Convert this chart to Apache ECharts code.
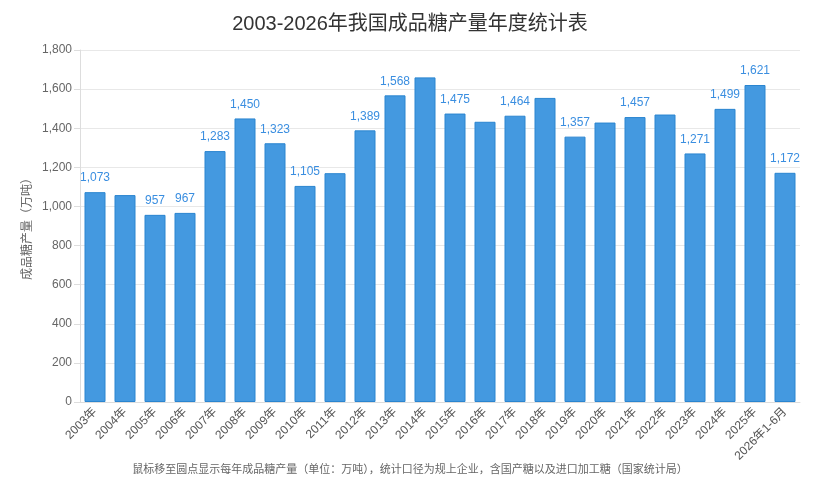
<!DOCTYPE html>
<html><head><meta charset="utf-8">
<script src="https://cdn.jsdelivr.net/npm/echarts@6/dist/echarts.min.js"></script>
<style>html,body{margin:0;padding:0;background:#fff}#c{width:820px;height:494px}</style>
</head><body><div id="c"></div>
<script>
const categories = ['2003年','2004年','2005年','2006年','2007年','2008年','2009年','2010年','2011年','2012年','2013年','2014年','2015年','2016年','2017年','2018年','2019年','2020年','2021年','2022年','2023年','2024年','2025年','2026年1-6月'];
const production = [1073,1058,957,967,1283,1450,1323,1105,1170,1389,1568,1660,1475,1433,1464,1555,1357,1429,1457,1470,1271,1499,1621,1172];
// categories whose value label is not shown in the original (hidden due to overlap)
const unlabeled = ['2004年','2011年','2014年','2016年','2018年','2020年','2022年'];
const yTicks = [0,200,400,600,800,1000,1200,1400,1600,1800];
const titleText = '2003-2026年我国成品糖产量年度统计表';
const yAxisName = '成品糖产量（万吨）';
const footerText = '鼠标移至圆点显示每年成品糖产量（单位：万吨），统计口径为规上企业，含国产糖以及进口加工糖（国家统计局）';

const font = '"Liberation Sans","Noto Sans CJK SC",sans-serif';
const fmt = v => v.toLocaleString('en-US');
const chart = echarts.init(document.getElementById('c'));
chart.setOption({
  animation: false,
  textStyle: {fontFamily: font},
  title: [
    {text: titleText, left: 'center', top: 9, textStyle: {fontSize: 20, fontWeight: 'normal', color: '#333', fontFamily: font}},
    {text: footerText, left: 'center', top: 459, textStyle: {fontSize: 11, fontWeight: 'normal', color: '#666', fontFamily: font}}
  ],
  grid: {left: 80, right: 20, top: 50, bottom: 92},
  xAxis: {
    type: 'category', data: categories,
    axisLine: {lineStyle: {color: '#ddd'}},
    axisTick: {show: false},
    axisLabel: {rotate: 45, color: '#555', fontSize: 12, interval: 0, margin: 8}
  },
  yAxis: {
    type: 'value', min: yTicks[0], max: yTicks[yTicks.length-1], interval: yTicks[1]-yTicks[0],
    name: yAxisName, nameLocation: 'middle', nameGap: 46, nameMoveOverlap: false,
    nameTextStyle: {color: '#666', fontSize: 12},
    axisLine: {show: true, lineStyle: {color: '#ddd'}},
    axisTick: {show: true, length: 6, lineStyle: {color: '#ddd'}},
    axisLabel: {color: '#666', fontSize: 12, formatter: fmt},
    splitLine: {lineStyle: {color: '#e8e8e8'}}
  },
  series: [{
    type: 'bar', barCategoryGap: '30%',
    data: production.map((v, i) => unlabeled.includes(categories[i]) ? {value: v, label: {show: false}} : v),
    itemStyle: {color: '#4499e0', borderColor: '#2a85d0', borderWidth: 1},
    label: {show: true, position: 'top', distance: 8, color: '#3a8ee0', fontSize: 12,
      formatter: p => fmt(p.value)}
  }]
});
</script></body></html>
